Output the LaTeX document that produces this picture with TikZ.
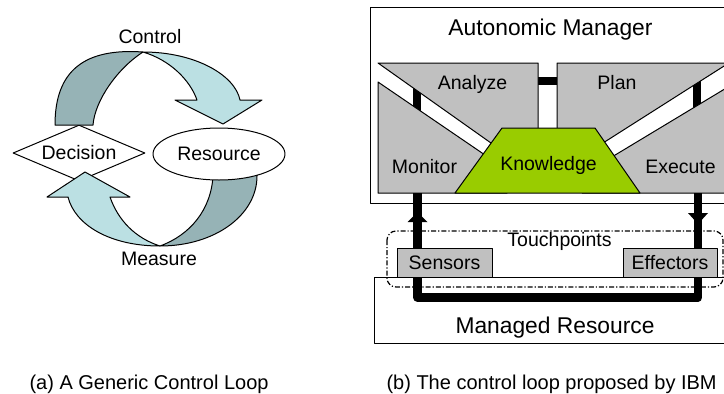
\documentclass[tikz,border=0pt]{standalone}
\usepackage{fontspec}
\setmainfont{Liberation Sans}
\usetikzlibrary{shapes.geometric}

\definecolor{loopfront}{RGB}{187,224,227}
\definecolor{loopback}{RGB}{150,179,182}
\definecolor{partgray}{RGB}{192,192,192}
\definecolor{knowgreen}{RGB}{153,204,0}

\begin{document}
\begin{tikzpicture}[
    x=1pt,
    y=-1pt,
    line join=round,
    outline/.style={
        draw=black,
        line width=1pt
    },
    front/.style={
        outline,
        fill=loopfront
    },
    back/.style={
        outline,
        fill=loopback
    },
    part/.style={
        outline,
        fill=partgray
    },
    bar/.style={
        line width=8.5pt
    },
    loopline/.style={
        line width=8.5pt,
        line join=round
    },
    touch/.style={
        line width=1.2pt,
        dash pattern=on 5pt off 2pt on 1.2pt off 2pt,
        rounded corners=9pt
    },
    modlabel/.style={
        font=\fontsize{19.5}{23}\selectfont
    },
    titlelabel/.style={
        font=\fontsize{22.8}{27}\selectfont
    },
    caplabel/.style={
        font=\fontsize{20}{24}\selectfont
    }
]

\path[use as bounding box, clip] (0,0) rectangle (724,394);

% =================================================
% Left: generic loop
% =================================================

\node[outline, diamond, aspect=2.36, inner sep=0pt,
      minimum width=132pt, minimum height=56pt, modlabel]
      (decision) at (79,153) {Decision};

% Upper arrow: back face, then front face with its head
\draw[back] (55,125) .. controls (55,70) and (85,48) .. (143,52)
    .. controls (118,68) and (95,100) .. (93,125) -- cycle;
\draw[front] (143,52) .. controls (195,52) and (235,75) .. (240,100)
    -- (262,100) -- (223,124) -- (175,100) -- (197,100)
    .. controls (190,80) and (170,60) .. (143,52) -- cycle;

% Lower arrow
\draw[back] (257,170) -- (257,176) .. controls (257,215) and (215,246) .. (160,246)
    .. controls (190,235) and (211,210) .. (213,176) -- (213,170) -- cycle;
\draw[front] (160,246) .. controls (110,246) and (75,225) .. (68,197)
    -- (47,197) -- (85,172) -- (130,197) -- (110,197)
    .. controls (118,220) and (135,238) .. (160,246) -- cycle;

\node[outline, fill=white, ellipse, inner sep=0pt,
      minimum width=132pt, minimum height=52pt, modlabel]
      (resource) at (219,154) {Resource};

\node[modlabel, anchor=base] (control) at (150,43.3) {Control};
\node[modlabel, anchor=base] (measure) at (159,265) {Measure};

% =================================================
% Right: autonomic manager
% =================================================

\coordinate (mon-foot) at (417.5,193);
\coordinate (sens-low) at (417.5,297.5);
\coordinate (eff-low)  at (698,297.5);
\coordinate (exe-foot) at (698,193);

% Frames of the manager and the managed resource
\draw[outline] (726,7) -- (370,7) -- (370,203) -- (726,203);
\draw[outline] (726,277) -- (374,277) -- (374,343) -- (726,343);

% Links between the parts (covered at their ends)
\draw[bar] (417,84) -- (417,115);
\draw[bar] (530,81) -- (565,81);
\draw[bar] (697,75) -- (697,115);

% Parts
\draw[part] (378,63) -- (538,63) -- (538,160) -- (515,160) -- cycle;
\draw[part] (378,82) -- (507,170) -- (507,193) -- (378,193) -- cycle;
\draw[part] (557,63) -- (728,63) -- (728,63.5) -- (592,150) -- (557,150) -- cycle;
\draw[part] (728,87) -- (582,175) -- (582,193) -- (728,193) -- cycle;

\draw[outline, fill=knowgreen] (502,128) -- (595,128) -- (640,193) -- (455,193) -- cycle;

% Touchpoints
\draw[touch] (387,231) rectangle (723,287);

% Loop through sensors and effectors
\draw[loopline] (mon-foot) -- (sens-low) -- (eff-low) -- (exe-foot);
\fill (417.5,212) -- (427.5,222) -- (407.5,222) -- cycle;
\fill (698,224) -- (708,213) -- (688,213) -- cycle;

\node[part, minimum width=95pt, minimum height=29pt, inner sep=0pt, modlabel]
      (sensors) at (444.5,262.5) {Sensors};
\node[part, minimum width=94pt, minimum height=29pt, inner sep=0pt, modlabel]
      (effectors) at (670,262.5) {Effectors};

% =================================================
% Labels
% =================================================

\node[titlelabel, anchor=base] at (550.5,35)  {Autonomic Manager};
\node[modlabel, anchor=base]   at (472.5,89)  {Analyze};
\node[modlabel, anchor=base]   at (617,89)    {Plan};
\node[modlabel, anchor=base]   at (424.5,173) {Monitor};
\node[modlabel, anchor=base]   at (548.5,170) {Knowledge};
\node[modlabel, anchor=base]   at (680.5,173) {Execute};
\node[modlabel, anchor=base]   at (559.5,246.7) {Touchpoints};
\node[titlelabel, anchor=base] at (555,333)   {Managed Resource};

\node[caplabel, anchor=base west] at (26,389)  {(a) A Generic Control Loop};
\node[caplabel, anchor=base west] at (383,389) {(b) The control loop proposed by IBM};

\end{tikzpicture}
\end{document}
